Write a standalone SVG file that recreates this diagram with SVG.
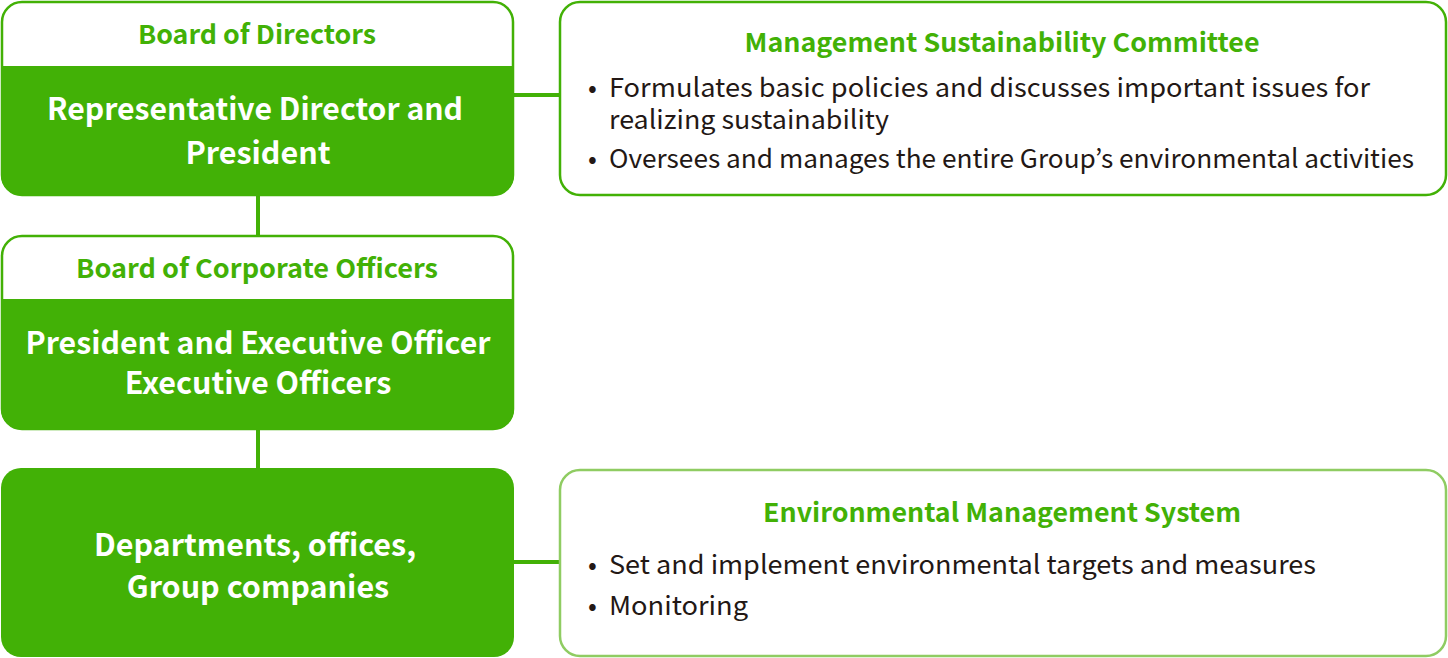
<svg xmlns="http://www.w3.org/2000/svg" width="1448" height="658" viewBox="0 0 1448 658">
<style>
.g{fill:#42b106}
.frame{fill:#fff;stroke:#42b106;stroke-width:2.5}
.frame2{fill:#fff;stroke:#8fcc62;stroke-width:2.5}
.hd{font-family:"Noto Sans CJK JP","Noto Sans",sans-serif;font-weight:bold;font-size:26px;fill:#42b106;text-anchor:middle}
.wt{font-family:"Noto Sans CJK JP","Noto Sans",sans-serif;font-weight:bold;font-size:30.5px;fill:#fff;text-anchor:middle}
.bd{font-family:"Noto Sans CJK JP","Noto Sans",sans-serif;font-size:26px;fill:#231815}
.ln{stroke:#42b106;stroke-width:4;fill:none}
</style>
<g id="connectors">
<line class="ln" x1="258" y1="195" x2="258" y2="236"/>
<line class="ln" x1="258" y1="429" x2="258" y2="469"/>
<line class="ln" x1="513" y1="95" x2="560" y2="95"/>
<line class="ln" x1="513" y1="562" x2="560" y2="562"/>
</g>
<g id="board-of-directors">
<rect class="frame" x="2" y="2" width="511" height="193" rx="20"/>
<path class="g" d="M1 66 H514 V175 A20 20 0 0 1 494 195 H21 A20 20 0 0 1 1 175 Z"/>
<text class="hd" x="257" y="44" textLength="238" lengthAdjust="spacingAndGlyphs">Board of Directors</text>
<text class="wt" x="255" y="120" textLength="416" lengthAdjust="spacingAndGlyphs">Representative Director and</text>
<text class="wt" x="258" y="164">President</text>
</g>
<g id="board-of-corporate-officers">
<rect class="frame" x="2" y="236" width="511" height="193" rx="20"/>
<path class="g" d="M1 299 H514 V409 A20 20 0 0 1 494 429 H21 A20 20 0 0 1 1 409 Z"/>
<text class="hd" x="257" y="278" textLength="362" lengthAdjust="spacingAndGlyphs">Board of Corporate Officers</text>
<text class="wt" x="258" y="354" textLength="465" lengthAdjust="spacingAndGlyphs">President and Executive Officer</text>
<text class="wt" x="258" y="394">Executive Officers</text>
</g>
<g id="departments">
<rect class="g" x="1" y="468" width="513" height="189" rx="20"/>
<text class="wt" x="255" y="556">Departments, offices,</text>
<text class="wt" x="258" y="598">Group companies</text>
</g>
<g id="management-sustainability-committee">
<rect class="frame" x="560" y="2" width="886" height="193" rx="20"/>
<text class="hd" x="1002" y="52" textLength="515" lengthAdjust="spacingAndGlyphs">Management Sustainability Committee</text>
<text class="bd"><tspan x="588" y="97">•</tspan><tspan x="609" y="97" textLength="761" lengthAdjust="spacingAndGlyphs">Formulates basic policies and discusses important issues for</tspan><tspan x="609" y="129" textLength="280" lengthAdjust="spacingAndGlyphs">realizing sustainability</tspan></text>
<text class="bd" x="588" y="168">•</text>
<text class="bd" x="609" y="168" textLength="805" lengthAdjust="spacingAndGlyphs">Oversees and manages the entire Group’s environmental activities</text>
</g>
<g id="environmental-management-system">
<rect class="frame2" x="560" y="470" width="886" height="186" rx="20"/>
<text class="hd" x="1002" y="522" textLength="478" lengthAdjust="spacingAndGlyphs">Environmental Management System</text>
<text class="bd" x="588" y="574">•</text>
<text class="bd" x="609" y="574" textLength="707" lengthAdjust="spacingAndGlyphs">Set and implement environmental targets and measures</text>
<text class="bd" x="588" y="615">•</text>
<text class="bd" x="609" y="615" textLength="139" lengthAdjust="spacingAndGlyphs">Monitoring</text>
</g>
</svg>
